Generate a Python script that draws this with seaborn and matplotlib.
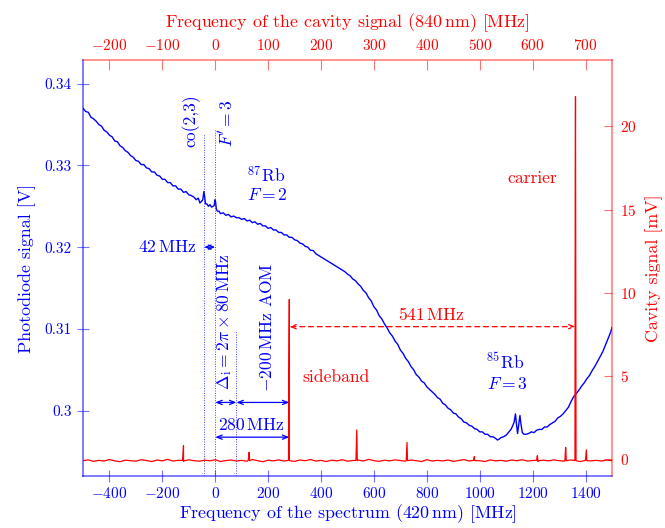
import matplotlib
matplotlib.use("Agg")
import matplotlib.pyplot as plt
import numpy as np
import pandas as pd
import seaborn as sns

# Photodiode trace (420 nm spectrum): frequency [MHz] and signal [V]
blue_mhz = [
    -500, -490, -480, -470, -460, -450, -440, -430, -420, -410,
    -400, -390, -380, -370, -360, -350, -340, -330, -320, -310,
    -300, -290, -280, -270, -260, -250, -240, -230, -220, -210,
    -200, -190, -180, -170, -160, -150, -140, -130, -120, -110,
    -100, -90, -80, -72, -64, -58, -52, -47, -43, -40,
    -37, -32, -26, -20, -14, -8, -4, -1, 1, 4,
    8, 14, 20, 30, 40, 50, 60, 70, 80, 90,
    100, 110, 120, 130, 140, 150, 160, 170, 180, 190,
    200, 210, 220, 230, 240, 250, 260, 270, 280, 290,
    300, 310, 320, 330, 340, 350, 360, 370, 380, 390,
    400, 410, 420, 430, 440, 450, 460, 470, 480, 490,
    500, 510, 520, 530, 540, 550, 560, 570, 580, 590,
    600, 610, 620, 630, 640, 650, 660, 670, 680, 690,
    700, 710, 720, 730, 740, 750, 760, 770, 780, 790,
    800, 810, 820, 830, 840, 850, 860, 870, 880, 890,
    900, 910, 920, 930, 940, 950, 960, 970, 980, 990,
    1000, 1010, 1020, 1030, 1040, 1050, 1060, 1067, 1073, 1080,
    1090, 1100, 1110, 1118, 1124, 1130, 1135, 1139, 1143, 1147,
    1152, 1156, 1161, 1168, 1175, 1185, 1195, 1205, 1215, 1225,
    1235, 1245, 1255, 1265, 1275, 1285, 1295, 1305, 1315, 1325,
    1335, 1345, 1355, 1365, 1375, 1385, 1395, 1405, 1415, 1425,
    1435, 1445, 1455, 1465, 1475, 1485, 1495, 1500,
]
blue_volt = [
    0.3370, 0.3366, 0.3365, 0.3359, 0.3357, 0.3354, 0.3350, 0.3348, 0.3343, 0.3341,
    0.3337, 0.3335, 0.3330, 0.3329, 0.3324, 0.3322, 0.3318, 0.3316, 0.3312, 0.3310,
    0.3306, 0.3305, 0.3301, 0.3301, 0.3297, 0.3296, 0.3292, 0.3292, 0.3288, 0.3287,
    0.3283, 0.3283, 0.3279, 0.3279, 0.3275, 0.3275, 0.3271, 0.3271, 0.3267, 0.3268,
    0.3264, 0.3263, 0.3261, 0.3258, 0.3260, 0.3254, 0.3256, 0.3258, 0.3268, 0.3262,
    0.3253, 0.3253, 0.3250, 0.3252, 0.3249, 0.3250, 0.3251, 0.3258, 0.3256, 0.3247,
    0.3244, 0.3244, 0.3241, 0.3242, 0.3239, 0.3240, 0.3237, 0.3238, 0.3236, 0.3236,
    0.3234, 0.3235, 0.3232, 0.3233, 0.3230, 0.3231, 0.3228, 0.3229, 0.3226, 0.3226,
    0.3223, 0.3224, 0.3221, 0.3221, 0.3218, 0.3218, 0.3215, 0.3215, 0.3212, 0.3212,
    0.3209, 0.3208, 0.3205, 0.3204, 0.3201, 0.3200, 0.3196, 0.3196, 0.3192, 0.3190,
    0.3188, 0.3186, 0.3184, 0.3182, 0.3180, 0.3178, 0.3176, 0.3174, 0.3172, 0.3170,
    0.3167, 0.3165, 0.3161, 0.3159, 0.3155, 0.3152, 0.3147, 0.3144, 0.3138, 0.3134,
    0.3127, 0.3123, 0.3116, 0.3112, 0.3106, 0.3101, 0.3095, 0.3091, 0.3085, 0.3081,
    0.3074, 0.3070, 0.3064, 0.3060, 0.3054, 0.3050, 0.3044, 0.3041, 0.3036, 0.3034,
    0.3029, 0.3026, 0.3023, 0.3020, 0.3016, 0.3014, 0.3009, 0.3007, 0.3003, 0.3001,
    0.2997, 0.2996, 0.2992, 0.2990, 0.2986, 0.2985, 0.2982, 0.2981, 0.2978, 0.2977,
    0.2974, 0.2974, 0.2971, 0.2971, 0.2968, 0.2968, 0.2966, 0.2964, 0.2965, 0.2967,
    0.2968, 0.2970, 0.2974, 0.2977, 0.2981, 0.2986, 0.2996, 0.2983, 0.2972, 0.2982,
    0.2994, 0.2983, 0.2973, 0.2971, 0.2971, 0.2972, 0.2974, 0.2973, 0.2976, 0.2977,
    0.2977, 0.2980, 0.2980, 0.2983, 0.2985, 0.2987, 0.2991, 0.2993, 0.2996, 0.3000,
    0.3004, 0.3011, 0.3017, 0.3021, 0.3025, 0.3030, 0.3034, 0.3039, 0.3043, 0.3049,
    0.3054, 0.3060, 0.3066, 0.3072, 0.3080, 0.3088, 0.3096, 0.3102,
]

# Cavity transmission (840 nm): baseline samples every 20 MHz [mV]
cav_base_mhz = list(range(-500, 1501, 20))
cav_base_mv = [
    -0.10, -0.05, -0.14, -0.08, -0.12, -0.03, -0.11, -0.16, -0.07, -0.10,
    -0.13, -0.04, -0.09, -0.15, -0.06, -0.11, -0.02, -0.12, -0.08, -0.14,
    -0.05, -0.10, -0.13, -0.07, -0.11, -0.04, -0.15, -0.09, -0.06, -0.12,
    -0.08, -0.13, -0.03, -0.10, -0.16, -0.07, -0.11, -0.05, -0.12, -0.09,
    -0.14, -0.06, -0.10, -0.03, -0.12, -0.08, -0.15, -0.07, -0.11, -0.04,
    -0.13, -0.09, -0.06, -0.12, -0.02, -0.10, -0.14, -0.07, -0.11, -0.05,
    -0.09, -0.13, -0.06, -0.10, -0.15, -0.04, -0.12, -0.08, -0.11, -0.06,
    -0.14, -0.09, -0.03, -0.12, -0.07, -0.10, -0.15, -0.05, -0.11, -0.08,
    -0.13, -0.06, -0.10, -0.04, -0.12, -0.09, -0.14, -0.07, -0.11, -0.05,
    -0.10, -0.13, -0.06, -0.09, -0.15, -0.04, -0.11, -0.08, -0.12, -0.06,
    -0.10,
]
# Resonances of the cavity: positions [MHz] and heights [mV]
peak_mhz = [-120, 128, 280, 535, 725, 980, 1218, 1325, 1362, 1403]
peak_mv = [0.80, 0.40, 9.60, 1.75, 1.00, 0.15, 0.20, 0.70, 21.8, 0.55]

# Tick labels
left_ticks = [0.30, 0.31, 0.32, 0.33, 0.34]
left_ticklabels = ["0.3", "0.31", "0.32", "0.33", "0.34"]
right_ticks = [0, 5, 10, 15, 20]
bottom_ticks = list(range(-400, 1401, 200))
top_ticks = list(range(-200, 701, 100))

BLUE = "#0000ff"
RED = "#ff0000"
LABEL_SIZE = 12.9

sns.set_theme(style="ticks")
plt.rcParams.update({
    "font.family": "serif",
    "font.serif": ["cmr10"],
    "mathtext.fontset": "cm",
    "axes.formatter.use_mathtext": True,
    "axes.unicode_minus": True,
    "font.size": 12.6,
})

# Assemble the cavity trace: baseline plus narrow resonance spikes
rows = list(zip(cav_base_mhz, cav_base_mv))
for f, h in zip(peak_mhz, peak_mv):
    rows += [(f - 3, -0.08), (f - 1, 0.75 * h), (f, h), (f + 2, -0.10)]
cav = pd.DataFrame(rows, columns=["mhz", "mv"]).sort_values("mhz")
pd_df = pd.DataFrame({"mhz": blue_mhz, "volt": blue_volt})

fig = plt.figure(figsize=(6.65, 5.28), dpi=100)
ax = fig.add_axes([0.1248, 0.0985, 0.7955, 0.7879])
ax2 = ax.twinx()

sns.lineplot(data=pd_df, x="mhz", y="volt", ax=ax, color=BLUE, lw=1.0,
             estimator=None, sort=False)
sns.lineplot(data=cav, x="mhz", y="mv", ax=ax2, color=RED, lw=0.9,
             estimator=None, sort=False)

ax.set_xlim(-500, 1500)
ax.set_ylim(0.2920, 0.3429)
ax2.set_ylim(-1.02, 24.0)

ax.set_xticks(bottom_ticks)
ax.set_yticks(left_ticks)
ax.set_yticklabels(left_ticklabels)
ax2.set_yticks(right_ticks)

ax.tick_params(axis="both", direction="inout", length=8, width=0.8,
               color=(0, 0, 1, 0.55), labelcolor=BLUE)
ax.tick_params(axis="x", pad=3)
ax.tick_params(axis="y", pad=4)
ax2.tick_params(axis="y", direction="in", length=6, width=0.8,
                color=(1, 0, 0, 0.55), labelcolor=RED, pad=6)

ax.set_xlabel("Frequency of the spectrum (420$\\,$nm) [MHz]", color=BLUE,
              labelpad=1, fontsize=LABEL_SIZE)
ax.set_ylabel("Photodiode signal [V]", color=BLUE, labelpad=6, fontsize=LABEL_SIZE)
ax2.set_ylabel("Cavity signal [mV]", color=RED, labelpad=6, fontsize=LABEL_SIZE)

sec = ax2.secondary_xaxis("top", functions=(lambda x: x / 2, lambda x: x * 2))
sec.set_xticks(top_ticks)
sec.tick_params(axis="x", direction="in", length=7, width=0.8,
                color=(1, 0, 0, 0.55), labelcolor=RED, pad=5)
sec.set_xlabel("Frequency of the cavity signal (840$\\,$nm) [MHz]", color=RED,
               labelpad=8, fontsize=LABEL_SIZE)

for s in ("top", "right"):
    ax.spines[s].set_visible(False)
for s in ("left", "bottom"):
    ax2.spines[s].set_visible(False)
ax2.spines["top"].set_visible(False)
ax2.spines["right"].set_color((1, 0, 0, 0.5))
sec.spines["top"].set_color((1, 0, 0, 0.5))
ax.spines["left"].set_color((0, 0, 1, 0.6))
ax.spines["bottom"].set_color((0, 0, 1, 0.6))
for sp in list(ax.spines.values()) + list(ax2.spines.values()) + [sec.spines["top"]]:
    sp.set_linewidth(1.2)

ymin = ax.get_ylim()[0]
dot = dict(colors=BLUE, linestyles=(0, (1, 1.5)), lw=0.7, alpha=0.75)
ax.vlines(-42, ymin, 0.3339, **dot)
ax.vlines(0, ymin, 0.3343, **dot)
ax.vlines(80, ymin, 0.3098, **dot)

arrow_b = dict(arrowstyle="<->,head_length=0.3,head_width=0.12", color=BLUE, lw=0.9,
               shrinkA=0, shrinkB=0)
ax.annotate("", xy=(0, 0.3200), xytext=(-42, 0.3200), arrowprops=arrow_b)
ax.annotate("", xy=(80, 0.3010), xytext=(0, 0.3010), arrowprops=arrow_b)
ax.annotate("", xy=(280, 0.3010), xytext=(80, 0.3010), arrowprops=arrow_b)
ax.annotate("", xy=(280, 0.29675), xytext=(0, 0.29675), arrowprops=arrow_b)

ax.text(-91, 0.3322, "co(2,3)", rotation=90, ha="center", va="bottom", color=BLUE)
ax.text(41, 0.3322, "$F' = 3$", rotation=90, ha="center", va="bottom", color=BLUE)
ax.text(193, 0.3288, "$^{87}$Rb", ha="center", va="center", color=BLUE)
ax.text(198, 0.3264, "$F = 2$", ha="center", va="center", color=BLUE)
ax.text(-72, 0.3200, "42$\\,$MHz", ha="right", va="center", color=BLUE)
ax.text(35, 0.3025, "$\\Delta_\\mathrm{i} = 2\\pi \\times 80\\,$MHz", rotation=90,
        ha="center", va="bottom", color=BLUE)
ax.text(195, 0.3023, "$-$200$\\,$MHz AOM", rotation=90, ha="center", va="bottom",
        color=BLUE)
ax.text(136, 0.2982, "280$\\,$MHz", ha="center", va="center", color=BLUE)
ax.text(1097, 0.3060, "$^{85}$Rb", ha="center", va="center", color=BLUE)
ax.text(1103, 0.3033, "$F = 3$", ha="center", va="center", color=BLUE)

ax2.annotate("", xy=(1362, 7.96), xytext=(280, 7.96),
             arrowprops=dict(arrowstyle="<->,head_length=0.3,head_width=0.12",
                             color=RED, lw=0.9, ls=(0, (4, 3)), shrinkA=0, shrinkB=0))
ax2.text(818, 8.67, "541$\\,$MHz", ha="center", va="center", color=RED)
ax2.text(455, 4.94, "sideband", ha="center", va="center", color=RED)
ax2.text(1199, 16.9, "carrier", ha="center", va="center", color=RED)

fig.savefig("out.png", dpi=100)
